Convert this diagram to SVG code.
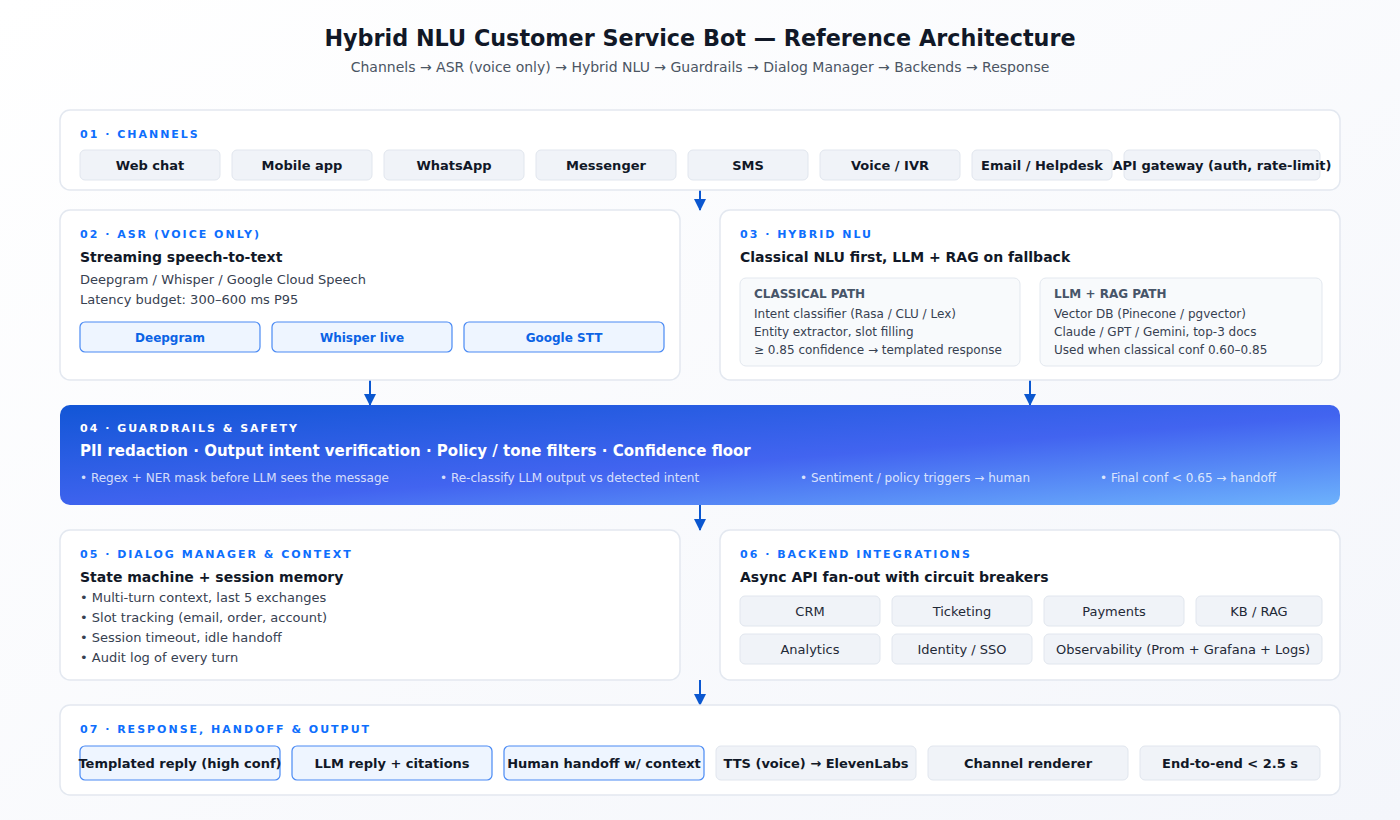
<svg xmlns="http://www.w3.org/2000/svg" width="1400" height="820" viewBox="0 0 1400 820">
<defs>
<linearGradient id="bg" x1="0" y1="0" x2="1" y2="1"><stop offset="0" stop-color="#ffffff"/><stop offset="1" stop-color="#f4f6fb"/></linearGradient>
<linearGradient id="guard" x1="0" y1="0" x2="1" y2="1"><stop offset="0" stop-color="#1256d6"/><stop offset="0.55" stop-color="#4264f0"/><stop offset="1" stop-color="#6db2fc"/></linearGradient>
<marker id="ah" viewBox="0 0 12 12" refX="11" refY="6" markerWidth="12" markerHeight="12" markerUnits="userSpaceOnUse" orient="auto"><path d="M0,0 L12,6 L0,12 Z" fill="#0b57d0"/></marker>
<style>
.ff{font-family:"DejaVu Sans","Liberation Sans",sans-serif}
.panel{fill:#ffffff;stroke:#e3e8f0;stroke-width:1.5}
.lbl{font-family:"DejaVu Sans",sans-serif;font-size:11px;font-weight:bold;letter-spacing:2px;fill:#0d6efd}
.head{font-family:"DejaVu Sans",sans-serif;font-size:14px;font-weight:bold;fill:#111827}
.body{font-family:"DejaVu Sans",sans-serif;font-size:13px;fill:#374151}
.small{font-family:"DejaVu Sans",sans-serif;font-size:12px;fill:#374151}
.sub{font-family:"DejaVu Sans",sans-serif;font-size:12px;font-weight:bold;fill:#475569}
.chip{fill:#f0f3f8;stroke:#e1e6ee;stroke-width:1}
.chipb{fill:#eef5ff;stroke:#4a8af4;stroke-width:1.2}
.ct{font-family:"DejaVu Sans",sans-serif;font-size:13px;font-weight:bold;fill:#111827;text-anchor:middle}
.ctb{font-family:"DejaVu Sans",sans-serif;font-size:12px;font-weight:bold;fill:#0b63e5;text-anchor:middle}
.ctn{font-family:"DejaVu Sans",sans-serif;font-size:13px;fill:#1f2937;text-anchor:middle}
.box{fill:#f8fafc;stroke:#e3e8ef;stroke-width:1}
.conn{stroke:#0b57d0;stroke-width:2;fill:none}
.gw{font-family:"DejaVu Sans",sans-serif;fill:#ffffff}
</style>
</defs>
<rect x="0" y="0" width="1400" height="820" fill="url(#bg)"/>
<text x="700" y="46" text-anchor="middle" class="ff" font-size="22.3" font-weight="bold" fill="#111827">Hybrid NLU Customer Service Bot — Reference Architecture</text>
<text x="700" y="72" text-anchor="middle" class="ff" font-size="14" fill="#4b5563">Channels → ASR (voice only) → Hybrid NLU → Guardrails → Dialog Manager → Backends → Response</text>

<g id="connectors">
<line class="conn" x1="700" y1="190" x2="700" y2="210" marker-end="url(#ah)"/>
<line class="conn" x1="370" y1="380" x2="370" y2="405" marker-end="url(#ah)"/>
<line class="conn" x1="1030" y1="380" x2="1030" y2="405" marker-end="url(#ah)"/>
<line class="conn" x1="700" y1="505" x2="700" y2="530" marker-end="url(#ah)"/>
<line class="conn" x1="700" y1="680" x2="700" y2="705" marker-end="url(#ah)"/>
</g>

<g id="channels">
<rect class="panel" x="60" y="110" width="1280" height="80" rx="10"/>
<text class="lbl" x="80" y="138">01 · CHANNELS</text>
<rect class="chip" x="80" y="150" width="140" height="30" rx="5"/><text class="ct" x="150" y="170">Web chat</text>
<rect class="chip" x="232" y="150" width="140" height="30" rx="5"/><text class="ct" x="302" y="170">Mobile app</text>
<rect class="chip" x="384" y="150" width="140" height="30" rx="5"/><text class="ct" x="454" y="170">WhatsApp</text>
<rect class="chip" x="536" y="150" width="140" height="30" rx="5"/><text class="ct" x="606" y="170">Messenger</text>
<rect class="chip" x="688" y="150" width="120" height="30" rx="5"/><text class="ct" x="748" y="170">SMS</text>
<rect class="chip" x="820" y="150" width="140" height="30" rx="5"/><text class="ct" x="890" y="170">Voice / IVR</text>
<rect class="chip" x="972" y="150" width="140" height="30" rx="5"/><text class="ct" x="1042" y="170">Email / Helpdesk</text>
<rect class="chip" x="1124" y="150" width="196" height="30" rx="5"/><text class="ct" x="1222" y="170">API gateway (auth, rate-limit)</text>
</g>

<g id="asr">
<rect class="panel" x="60" y="210" width="620" height="170" rx="10"/>
<text class="lbl" x="80" y="238">02 · ASR (VOICE ONLY)</text>
<text class="head" x="80" y="262">Streaming speech-to-text</text>
<text class="body" x="80" y="284">Deepgram / Whisper / Google Cloud Speech</text>
<text class="body" x="80" y="304">Latency budget: 300–600 ms P95</text>
<rect class="chipb" x="80" y="322" width="180" height="30" rx="5"/><text class="ctb" x="170" y="342">Deepgram</text>
<rect class="chipb" x="272" y="322" width="180" height="30" rx="5"/><text class="ctb" x="362" y="342">Whisper live</text>
<rect class="chipb" x="464" y="322" width="200" height="30" rx="5"/><text class="ctb" x="564" y="342">Google STT</text>
</g>

<g id="nlu">
<rect class="panel" x="720" y="210" width="620" height="170" rx="10"/>
<text class="lbl" x="740" y="238">03 · HYBRID NLU</text>
<text class="head" x="740" y="262">Classical NLU first, LLM + RAG on fallback</text>
<rect class="box" x="740" y="278" width="280" height="88" rx="6"/>
<text class="sub" x="754" y="298">CLASSICAL PATH</text>
<text class="small" x="754" y="318">Intent classifier (Rasa / CLU / Lex)</text>
<text class="small" x="754" y="336">Entity extractor, slot filling</text>
<text class="small" x="754" y="354">≥ 0.85 confidence → templated response</text>
<rect class="box" x="1040" y="278" width="282" height="88" rx="6"/>
<text class="sub" x="1054" y="298">LLM + RAG PATH</text>
<text class="small" x="1054" y="318">Vector DB (Pinecone / pgvector)</text>
<text class="small" x="1054" y="336">Claude / GPT / Gemini, top-3 docs</text>
<text class="small" x="1054" y="354">Used when classical conf 0.60–0.85</text>
</g>

<g id="guardrails">
<rect x="60" y="405" width="1280" height="100" rx="10" fill="url(#guard)"/>
<text class="gw" x="80" y="432" font-size="11" font-weight="bold" letter-spacing="2">04 · GUARDRAILS &amp; SAFETY</text>
<text class="gw" x="80" y="456" font-size="15" font-weight="bold">PII redaction · Output intent verification · Policy / tone filters · Confidence floor</text>
<g class="gw" font-size="12" fill-opacity="0.8">
<text x="80" y="482">• Regex + NER mask before LLM sees the message</text>
<text x="440" y="482">• Re-classify LLM output vs detected intent</text>
<text x="800" y="482">• Sentiment / policy triggers → human</text>
<text x="1100" y="482">• Final conf &lt; 0.65 → handoff</text>
</g>
</g>

<g id="dialog">
<rect class="panel" x="60" y="530" width="620" height="150" rx="10"/>
<text class="lbl" x="80" y="558">05 · DIALOG MANAGER &amp; CONTEXT</text>
<text class="head" x="80" y="582">State machine + session memory</text>
<text class="body" x="80" y="602">• Multi-turn context, last 5 exchanges</text>
<text class="body" x="80" y="622">• Slot tracking (email, order, account)</text>
<text class="body" x="80" y="642">• Session timeout, idle handoff</text>
<text class="body" x="80" y="662">• Audit log of every turn</text>
</g>

<g id="backends">
<rect class="panel" x="720" y="530" width="620" height="150" rx="10"/>
<text class="lbl" x="740" y="558">06 · BACKEND INTEGRATIONS</text>
<text class="head" x="740" y="582">Async API fan-out with circuit breakers</text>
<rect class="chip" x="740" y="596" width="140" height="30" rx="5"/><text class="ctn" x="810" y="616">CRM</text>
<rect class="chip" x="892" y="596" width="140" height="30" rx="5"/><text class="ctn" x="962" y="616">Ticketing</text>
<rect class="chip" x="1044" y="596" width="140" height="30" rx="5"/><text class="ctn" x="1114" y="616">Payments</text>
<rect class="chip" x="1196" y="596" width="126" height="30" rx="5"/><text class="ctn" x="1259" y="616">KB / RAG</text>
<rect class="chip" x="740" y="634" width="140" height="30" rx="5"/><text class="ctn" x="810" y="654">Analytics</text>
<rect class="chip" x="892" y="634" width="140" height="30" rx="5"/><text class="ctn" x="962" y="654">Identity / SSO</text>
<rect class="chip" x="1044" y="634" width="278" height="30" rx="5"/><text class="ctn" x="1183" y="654">Observability (Prom + Grafana + Logs)</text>
</g>

<g id="response">
<rect class="panel" x="60" y="705" width="1280" height="90" rx="10"/>
<text class="lbl" x="80" y="733">07 · RESPONSE, HANDOFF &amp; OUTPUT</text>
<rect class="chipb" x="80" y="746" width="200" height="34" rx="5"/><text class="ct" x="180" y="768">Templated reply (high conf)</text>
<rect class="chipb" x="292" y="746" width="200" height="34" rx="5"/><text class="ct" x="392" y="768">LLM reply + citations</text>
<rect class="chipb" x="504" y="746" width="200" height="34" rx="5"/><text class="ct" x="604" y="768">Human handoff w/ context</text>
<rect class="chip" x="716" y="746" width="200" height="34" rx="5"/><text class="ct" x="816" y="768">TTS (voice) → ElevenLabs</text>
<rect class="chip" x="928" y="746" width="200" height="34" rx="5"/><text class="ct" x="1028" y="768">Channel renderer</text>
<rect class="chip" x="1140" y="746" width="180" height="34" rx="5"/><text class="ct" x="1230" y="768">End-to-end &lt; 2.5 s</text>
</g>
</svg>
